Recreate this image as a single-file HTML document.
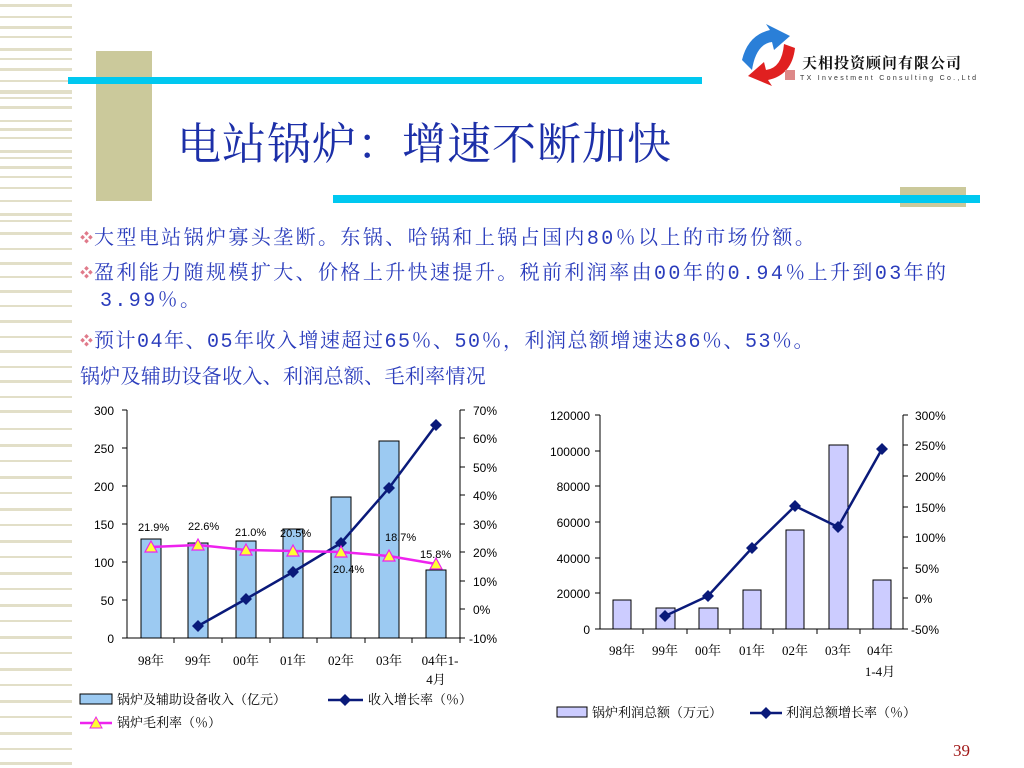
<!DOCTYPE html>
<html><head><meta charset="utf-8"><style>
body{margin:0;width:1024px;height:768px;background:#fff;position:relative;overflow:hidden;font-family:"Liberation Serif","Noto Serif CJK SC",serif}
.a{position:absolute}
.t{color:#2a3cbc;font-size:20px;letter-spacing:2.4px;white-space:nowrap;font-family:"Liberation Mono","Noto Serif CJK SC",serif;line-height:24px}
.d{color:#e07a8a;font-size:13px;vertical-align:2px;letter-spacing:1px}
</style></head><body>
<svg class="a" style="left:0;top:0" width="1024" height="768">
<g fill="#e2dfc8">
<rect x="0" y="4" width="72" height="3"/><rect x="0" y="16" width="72" height="2"/><rect x="0" y="26" width="72" height="3"/><rect x="0" y="36" width="72" height="2"/><rect x="0" y="48" width="72" height="3"/><rect x="0" y="58" width="72" height="2"/><rect x="0" y="68" width="72" height="3"/><rect x="0" y="80" width="72" height="2"/><rect x="0" y="90" width="72" height="4"/><rect x="0" y="97" width="72" height="2"/><rect x="0" y="106" width="72" height="3"/><rect x="0" y="120" width="72" height="2"/><rect x="0" y="128" width="72" height="3"/><rect x="0" y="137" width="72" height="2"/><rect x="0" y="150" width="72" height="3"/><rect x="0" y="157" width="72" height="2"/><rect x="0" y="166" width="72" height="3"/><rect x="0" y="176" width="72" height="2"/><rect x="0" y="187" width="72" height="2"/><rect x="0" y="200" width="72" height="2"/><rect x="0" y="213" width="72" height="3"/><rect x="0" y="220" width="72" height="2"/><rect x="0" y="232" width="72" height="3"/>
<rect x="0" y="248" width="72" height="2"/><rect x="0" y="262" width="72" height="3"/><rect x="0" y="276" width="72" height="2"/><rect x="0" y="290" width="72" height="3"/><rect x="0" y="305" width="72" height="2"/><rect x="0" y="320" width="72" height="3"/><rect x="0" y="336" width="72" height="2"/><rect x="0" y="350" width="72" height="3"/><rect x="0" y="366" width="72" height="2"/><rect x="0" y="380" width="72" height="3"/><rect x="0" y="396" width="72" height="2"/><rect x="0" y="410" width="72" height="3"/><rect x="0" y="428" width="72" height="2"/><rect x="0" y="444" width="72" height="3"/><rect x="0" y="460" width="72" height="2"/><rect x="0" y="476" width="72" height="3"/><rect x="0" y="492" width="72" height="2"/><rect x="0" y="508" width="72" height="3"/><rect x="0" y="524" width="72" height="2"/><rect x="0" y="540" width="72" height="3"/><rect x="0" y="556" width="72" height="2"/><rect x="0" y="572" width="72" height="3"/><rect x="0" y="588" width="72" height="2"/><rect x="0" y="604" width="72" height="3"/><rect x="0" y="620" width="72" height="2"/><rect x="0" y="636" width="72" height="3"/><rect x="0" y="652" width="72" height="2"/><rect x="0" y="668" width="72" height="3"/><rect x="0" y="684" width="72" height="2"/><rect x="0" y="700" width="72" height="3"/><rect x="0" y="716" width="72" height="2"/><rect x="0" y="732" width="72" height="3"/><rect x="0" y="748" width="72" height="2"/><rect x="0" y="762" width="72" height="3"/>
</g>
<rect x="96" y="51" width="56" height="150" fill="#cbc99b"/>
<rect x="68" y="77" width="634" height="7" fill="#00c8f0"/>
<rect x="900" y="187" width="66" height="20" fill="#cbc99b"/>
<rect x="333" y="195" width="647" height="8" fill="#00c8f0"/>
<path d="M742,60 Q748,35 770,30 L766,24 L790,36 L774,50 L772,42 Q756,44 752,70 Z" fill="#2a7fd8"/>
<path d="M795,48 Q792,75 768,80 L772,86 L748,76 L764,62 L766,70 Q782,68 784,44 Z" fill="#e02020"/>
<rect x="785" y="70" width="10" height="10" fill="#d88"/>
</svg>
<div class="a" style="top:52px;left:802px;font-size:15px;font-weight:bold;color:#111;letter-spacing:1px;font-family:'Noto Serif CJK SC',serif">天相投资顾问有限公司</div>
<div class="a" style="left:800px;top:75px;font-size:7px;letter-spacing:2.3px;color:#333;font-family:'Liberation Sans',sans-serif">TX Investment Consulting Co.,Ltd</div>
<div class="a" style="left:177px;top:112px;font-size:44px;letter-spacing:1px;line-height:56px;color:#1c2fa8;font-family:'Noto Serif CJK SC',serif;white-space:nowrap">电站锅炉：增速不断加快</div>
<div class="a t" style="left:80px;top:227px"><span class="d">❖</span>大型电站锅炉寡头垄断。东锅、哈锅和上锅占国内80％以上的市场份额。</div>
<div class="a t" style="left:80px;top:262px"><span class="d">❖</span>盈利能力随规模扩大、价格上升快速提升。税前利润率由00年的0.94％上升到03年的</div>
<div class="a t" style="left:100px;top:290px">3.99％。</div>
<div class="a t" style="left:80px;top:330px;letter-spacing:1.5px"><span class="d">❖</span>预计04年、05年收入增速超过65％、50％，利润总额增速达86％、53％。</div>
<div class="a t" style="left:80px;top:367px;letter-spacing:0.3px">锅炉及辅助设备收入、利润总额、毛利率情况</div>

<svg class="a" style="left:0;top:0" width="1024" height="768" font-family="Liberation Sans,sans-serif" font-size="12">
<g fill="#9ccaf2" stroke="#000" stroke-width="1">
<rect x="141" y="539" width="20" height="99"/><rect x="188" y="543" width="20" height="95"/><rect x="236" y="541" width="20" height="97"/><rect x="283" y="529" width="20" height="109"/><rect x="331" y="497" width="20" height="141"/><rect x="379" y="441" width="20" height="197"/><rect x="426" y="570" width="20" height="68"/>
</g>
<g stroke="#000" fill="none"><path d="M127,410V638H460V410"/>
<path d="M122,410h5M122,448h5M122,486h5M122,524h5M122,562h5M122,600h5M122,638h5M460,410h5M460,438h5M460,467h5M460,495h5M460,524h5M460,552h5M460,581h5M460,609h5M460,638h5M174,638v5M222,638v5M270,638v5M317,638v5M365,638v5M412,638v5M460,638v5"/></g>
<g text-anchor="end"><text x="114" y="415">300</text><text x="114" y="453">250</text><text x="114" y="491">200</text><text x="114" y="529">150</text><text x="114" y="567">100</text><text x="114" y="605">50</text><text x="114" y="643">0</text></g>
<g><text x="473" y="415">70%</text><text x="473" y="443">60%</text><text x="473" y="472">50%</text><text x="473" y="500">40%</text><text x="473" y="529">30%</text><text x="473" y="557">20%</text><text x="473" y="586">10%</text><text x="473" y="614">0%</text><text x="469" y="643">-10%</text></g>
<polyline points="198,626 246,599 293,572 341,543 389,488 436,425" fill="none" stroke="#0a1a7a" stroke-width="2.5"/>
<g fill="#0a1a7a"><path d="M198,620l6,6-6,6-6-6z"/><path d="M246,593l6,6-6,6-6-6z"/><path d="M293,566l6,6-6,6-6-6z"/><path d="M341,537l6,6-6,6-6-6z"/><path d="M389,482l6,6-6,6-6-6z"/><path d="M436,419l6,6-6,6-6-6z"/></g>
<polyline points="151,547 198,545 246,550 293,551 341,552 389,556 436,564" fill="none" stroke="#ee22ee" stroke-width="2.5"/>
<g fill="#ffff33" stroke="#ee22ee" stroke-width="1.2"><path d="M151,541l6,11h-12z"/><path d="M198,539l6,11h-12z"/><path d="M246,544l6,11h-12z"/><path d="M293,545l6,11h-12z"/><path d="M341,546l6,11h-12z"/><path d="M389,550l6,11h-12z"/><path d="M436,558l6,11h-12z"/></g>
<g font-size="11"><text x="138" y="531">21.9%</text><text x="188" y="530">22.6%</text><text x="235" y="536">21.0%</text><text x="280" y="537">20.5%</text><text x="333" y="573">20.4%</text><text x="385" y="541">18.7%</text><text x="420" y="558">15.8%</text></g>
<g font-family="Liberation Serif,Noto Serif CJK SC,serif" font-size="13" text-anchor="middle"><text x="151" y="665">98年</text><text x="198" y="665">99年</text><text x="246" y="665">00年</text><text x="293" y="665">01年</text><text x="341" y="665">02年</text><text x="389" y="665">03年</text><text x="440" y="665">04年1-</text><text x="436" y="684">4月</text></g>
<rect x="80" y="694" width="32" height="10" fill="#9ccaf2" stroke="#000"/>
<g font-family="Noto Serif CJK SC,serif" font-size="13"><text x="117" y="704">锅炉及辅助设备收入（亿元）</text><text x="368" y="704">收入增长率（％）</text><text x="117" y="727">锅炉毛利率（％）</text></g>
<line x1="328" y1="700" x2="363" y2="700" stroke="#0a1a7a" stroke-width="2.5"/><path d="M345,694l6,6-6,6-6-6z" fill="#0a1a7a"/>
<line x1="80" y1="723" x2="112" y2="723" stroke="#ee22ee" stroke-width="2.5"/><path d="M96,717l6,11h-12z" fill="#ffff33" stroke="#ee22ee"/>
<g fill="#ccccff" stroke="#000"><rect x="613" y="600" width="18" height="29"/><rect x="656" y="608" width="19" height="21"/><rect x="699" y="608" width="19" height="21"/><rect x="743" y="590" width="18" height="39"/><rect x="786" y="530" width="18" height="99"/><rect x="829" y="445" width="19" height="184"/><rect x="873" y="580" width="18" height="49"/></g>
<g stroke="#000" fill="none"><path d="M600,415V629H903V415"/>
<path d="M595,415h5M595,451h5M595,486h5M595,522h5M595,558h5M595,593h5M595,629h5M903,415h5M903,445h5M903,476h5M903,507h5M903,537h5M903,568h5M903,598h5M903,629h5M643,629v5M687,629v5M730,629v5M773,629v5M817,629v5M860,629v5"/></g>
<g text-anchor="end"><text x="590" y="420">120000</text><text x="590" y="456">100000</text><text x="590" y="491">80000</text><text x="590" y="527">60000</text><text x="590" y="563">40000</text><text x="590" y="598">20000</text><text x="590" y="634">0</text></g>
<g><text x="915" y="420">300%</text><text x="915" y="450">250%</text><text x="915" y="481">200%</text><text x="915" y="512">150%</text><text x="915" y="542">100%</text><text x="915" y="573">50%</text><text x="915" y="603">0%</text><text x="911" y="634">-50%</text></g>
<polyline points="665,616 708,596 752,548 795,506 838,527 882,449" fill="none" stroke="#0a1a7a" stroke-width="2.5"/>
<g fill="#0a1a7a"><path d="M665,610l6,6-6,6-6-6z"/><path d="M708,590l6,6-6,6-6-6z"/><path d="M752,542l6,6-6,6-6-6z"/><path d="M795,500l6,6-6,6-6-6z"/><path d="M838,521l6,6-6,6-6-6z"/><path d="M882,443l6,6-6,6-6-6z"/></g>
<g font-family="Liberation Serif,Noto Serif CJK SC,serif" font-size="13" text-anchor="middle"><text x="622" y="655">98年</text><text x="665" y="655">99年</text><text x="708" y="655">00年</text><text x="752" y="655">01年</text><text x="795" y="655">02年</text><text x="838" y="655">03年</text><text x="880" y="655">04年</text><text x="880" y="676">1-4月</text></g>
<rect x="557" y="707" width="30" height="10" fill="#ccccff" stroke="#000"/>
<g font-family="Noto Serif CJK SC,serif" font-size="13"><text x="592" y="717">锅炉利润总额（万元）</text><text x="786" y="717">利润总额增长率（％）</text></g>
<line x1="750" y1="713" x2="782" y2="713" stroke="#0a1a7a" stroke-width="2.5"/><path d="M766,707l6,6-6,6-6-6z" fill="#0a1a7a"/>
<text x="953" y="756" font-family="Liberation Serif,serif" font-size="17" fill="#a01818">39</text>
</svg>
</body></html>
